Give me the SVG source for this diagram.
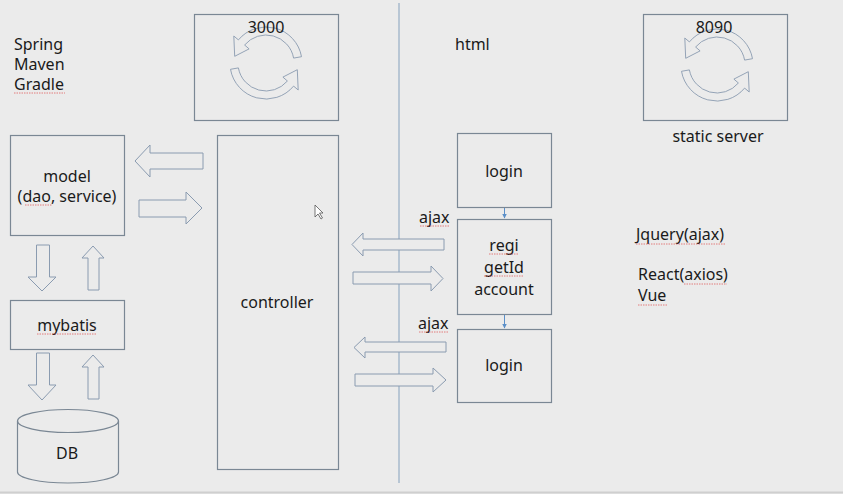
<svg xmlns="http://www.w3.org/2000/svg" width="843" height="494" viewBox="0 0 843 494">
<defs>
<style>
text{font-family:"Noto Sans","Open Sans","Liberation Sans",sans-serif;font-size:16px;fill:#1a1a1a}
.c{text-anchor:middle}
.box{fill:none;stroke:#7a8794;stroke-width:1.2}
.blk{fill:#ebebeb;stroke:#8a9bb0;stroke-width:1}
.cyc{fill:#ebebeb;stroke:#8a9bb0;stroke-width:0.9}
.sq{fill:none;stroke:#e06060;stroke-width:0.8;stroke-dasharray:1.5 1}
.lnk{stroke:#5b8fc8;stroke-width:1;fill:none}
</style>
<marker id="ah" viewBox="0 0 10 10" refX="9" refY="5" markerWidth="5" markerHeight="5" orient="auto"><path d="M0,0 L10,5 L0,10 z" fill="#5b8fc8"/></marker>
<g id="cycle">
<path class="cyc" d="M301.5,56.7 A36,36 0 0 0 238.4,39.9 L233.8,36 L234.7,56.3 L249.1,48.9 L244.6,45 A28,28 0 0 1 293.6,58.1 Z"/>
<path class="cyc" d="M230.5,69.3 A36,36 0 0 0 293.6,86.1 L298.2,90 L297.3,69.7 L282.9,77.1 L287.4,81 A28,28 0 0 1 238.4,67.9 Z"/>
</g>
</defs>
<rect width="843" height="494" fill="#ebebeb"/>
<line x1="0" y1="492.5" x2="843" y2="492.5" stroke="#cfcfcf" stroke-width="2"/>
<line x1="399" y1="3" x2="399" y2="483" stroke="#9db2c8" stroke-width="1.3"/>

<g id="tech">
<text x="14" y="50">Spring</text>
<text x="14" y="70">Maven</text>
<text x="14" y="90">Gradle</text>
<path class="sq" d="M14,93 H65"/>
</g>

<g id="server3000">
<rect class="box" x="194.5" y="14.5" width="144" height="106"/>
<use href="#cycle"/>
<text class="c" x="266" y="33">3000</text>
</g>

<g id="server8090">
<rect class="box" x="643.5" y="14.5" width="144" height="106"/>
<use href="#cycle" transform="translate(451,2)"/>
<text class="c" x="714" y="33">8090</text>
<text class="c" x="718" y="142">static server</text>
</g>

<text x="455" y="50">html</text>

<g id="model">
<rect class="box" x="10.5" y="135.5" width="114" height="100"/>
<text class="c" x="67" y="182">model</text>
<text class="c" x="67" y="202">(dao, service)</text>
<path class="sq" d="M25,205 H52"/>
</g>

<g id="mybatis">
<rect class="box" x="10.5" y="300.5" width="114" height="49"/>
<text class="c" x="67" y="331">mybatis</text>
<path class="sq" d="M37,334 H97"/>
</g>

<g id="db">
<path class="box" d="M17.5,421 V472 A50.5,11 0 0 0 118.5,472 V421"/>
<ellipse class="box" cx="68" cy="421" rx="50.5" ry="11.5"/>
<text class="c" x="67" y="459">DB</text>
</g>

<g id="controller">
<rect class="box" x="217.5" y="135.5" width="121" height="334"/>
<text class="c" x="277" y="308">controller</text>
<path d="M315,205 V217 L318,214 L321,219 L322.5,218 L319.5,213 L323,213 Z" fill="#fff" stroke="#555" stroke-width="0.8"/>
</g>

<g id="login1">
<rect class="box" x="457.5" y="133.5" width="94" height="74"/>
<text class="c" x="504" y="177">login</text>
</g>

<g id="regi">
<rect class="box" x="457.5" y="219.5" width="94" height="95"/>
<text class="c" x="504" y="251">regi</text>
<text class="c" x="504" y="273">getId</text>
<text class="c" x="504" y="295">account</text>
<path class="sq" d="M489,254 H519 M484,276 H524"/>
</g>

<g id="login2">
<rect class="box" x="457.5" y="329.5" width="94" height="73"/>
<text class="c" x="504" y="371">login</text>
</g>

<g id="notes">
<text x="636" y="240">Jquery(ajax)</text>
<path class="sq" d="M636,244 H726"/>
<text x="638" y="280">React(axios)</text>
<path class="sq" d="M684,284 H727"/>
<text x="638" y="301">Vue</text>
<path class="sq" d="M638,305 H668"/>
</g>

<g id="connectors">
<path class="blk" d="M203,153 H150 V145 L135,161 L150,177 V169 H203 Z"/>
<path class="blk" d="M139,200 H186 V192 L202,208 L186,224 V217 H139 Z"/>
<path class="blk" d="M36.5,245 V277 H28 L42,291 L56,277 H49.5 V245 Z"/>
<path class="blk" d="M88,290 V258 H82 L93,246 L104,258 H99 V290 Z"/>
<path class="blk" d="M36.5,353 V385 H28 L42,400 L56,385 H49.5 V353 Z"/>
<path class="blk" d="M88,399 V367 H82 L93,355 L104,367 H99 V399 Z"/>
<path class="blk" d="M444,239 H363 V233 L352,244.5 L363,256 V250 H444 Z"/>
<path class="blk" d="M353,272 H431 V266 L443,278.5 L431,291 V284 H353 Z"/>
<path class="blk" d="M446,342 H365 V337 L354,347.5 L365,358 V352 H446 Z"/>
<path class="blk" d="M355,374 H433 V368 L446,380 L433,392 V386 H355 Z"/>
<line class="lnk" x1="504.5" y1="208" x2="504.5" y2="218" marker-end="url(#ah)"/>
<line class="lnk" x1="504.5" y1="315" x2="504.5" y2="328" marker-end="url(#ah)"/>
<text x="419" y="223">ajax</text>
<path class="sq" d="M420,226 H450"/>
<text x="418" y="329">ajax</text>
<path class="sq" d="M419,332 H449"/>
</g>
</svg>
